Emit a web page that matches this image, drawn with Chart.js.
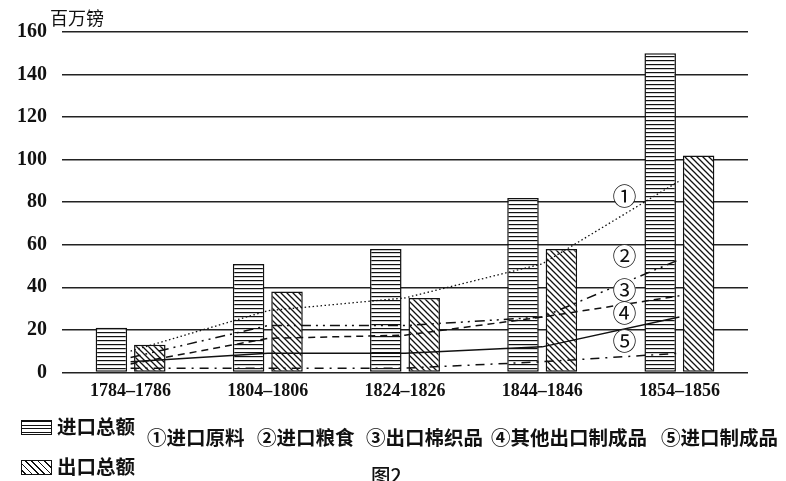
<!DOCTYPE html>
<html>
<head>
<meta charset="utf-8">
<script src="https://cdn.jsdelivr.net/npm/chart.js@4"></script>
<style>
	body { margin: 0; background: #fff; }
	#wrap { position: relative; width: 786px; height: 481px; overflow: hidden; font-family: "Noto Sans CJK SC", sans-serif; color: #111; }
	#chartBox { position: absolute; left: 0; top: 0; width: 786px; height: 481px; }
	.unit { position: absolute; left: 50px; top: 4px; font-size: 18px; }
	.key { position: absolute; font-size: 19.5px; font-weight: 700; white-space: nowrap; line-height: 24px; }
	.sw { display: inline-block; width: 31px; height: 15px; border: 1.5px solid #111; vertical-align: -1px; margin-right: 5px; box-sizing: border-box; }
	.sw.imp { background: repeating-linear-gradient(to bottom, #111 0 1px, #fff 1px 3.5px); }
	.sw.exp { background: repeating-linear-gradient(45deg, #fff 0 2px, #111 2px 3.2px, #fff 3.2px 4.5px); }
</style>
</head>
<body>
<div id="wrap">
	<div id="chartBox"><canvas id="tradeChart"></canvas></div>
	<div class="unit">百万镑</div>
	<div class="key" style="left:21px; top:414px;"><span class="sw imp"></span>进口总额</div>
	<div class="key" style="left:21px; top:454px;"><span class="sw exp"></span>出口总额</div>
	<div class="key" style="left:147px; top:425px;">①进口原料</div>
	<div class="key" style="left:257px; top:425px;">②进口粮食</div>
	<div class="key" style="left:366px; top:425px;">③出口棉织品</div>
	<div class="key" style="left:491px; top:425px;">④其他出口制成品</div>
	<div class="key" style="left:661px; top:425px;">⑤进口制成品</div>
	<div class="key" style="left:371px; top:463px; font-weight:500;">图2</div>
</div>
<script>
const categories = ["1784–1786", "1804–1806", "1824–1826", "1844–1846", "1854–1856"];
const importTotal = [21, 51, 58, 82, 150];
const exportTotal = [13, 38, 35, 58, 102];
const importRaw = [10, 29, 35, 51, 90];        // ①
const importGrain = [7, 22, 22, 26, 53];       // ②
const exportCotton = [4, 16, 17.5, 26, 36];    // ③
const otherExportGoods = [5, 9, 9, 12, 26];    // ④
const importGoods = [2, 2, 2, 5, 9];           // ⑤
const lineMarks = ["①", "②", "③", "④", "⑤"];
const markValues = [83, 55, 39, 28, 15];
const yMax = 160;
const yStep = 20;

function stripes() {
	const c = document.createElement("canvas");
	c.width = 8; c.height = 4;
	const g = c.getContext("2d");
	g.fillStyle = "#fff"; g.fillRect(0, 0, 8, 4);
	g.fillStyle = "#111"; g.fillRect(0, 0, 8, 1.2);
	return g.createPattern(c, "repeat");
}

function hatch() {
	const s = 6;
	const c = document.createElement("canvas");
	c.width = s; c.height = s;
	const g = c.getContext("2d");
	g.fillStyle = "#fff"; g.fillRect(0, 0, s, s);
	g.strokeStyle = "#111"; g.lineWidth = 1.3;
	g.beginPath();
	g.moveTo(0, 0); g.lineTo(s, s);
	g.moveTo(-s, 0); g.lineTo(s, 2 * s);
	g.moveTo(0, -s); g.lineTo(2 * s, s);
	g.stroke();
	return g.createPattern(c, "repeat");
}

const lineBase = { type: "line", borderColor: "#111", pointRadius: 0, fill: false, tension: 0, order: 0 };

// circled numbers next to the lines, placed between the last two categories
const markPlugin = {
	id: "marks",
	afterDatasetsDraw(chart) {
		const x = chart.scales.x, y = chart.scales.y, ctx = chart.ctx;
		const px = x.getPixelForValue(3) + (x.getPixelForValue(4) - x.getPixelForValue(3)) * 0.6;
		ctx.save();
		ctx.font = "24px 'Noto Sans CJK SC'";
		ctx.textAlign = "center";
		ctx.textBaseline = "middle";
		lineMarks.forEach((m, i) => {
			const py = y.getPixelForValue(markValues[i]);
			ctx.fillStyle = "#fff";
			ctx.beginPath(); ctx.arc(px, py, 11, 0, Math.PI * 2); ctx.fill();
			ctx.fillStyle = "#111";
			ctx.fillText(m, px, py);
		});
		ctx.restore();
	}
};

new Chart(document.getElementById("tradeChart"), {
	type: "bar",
	data: {
		labels: categories,
		datasets: [
			{ label: "进口总额", data: importTotal, backgroundColor: stripes(), borderColor: "#111", borderWidth: 1.5, borderSkipped: false, categoryPercentage: 0.56, barPercentage: 0.82, order: 1 },
			{ label: "出口总额", data: exportTotal, backgroundColor: hatch(), borderColor: "#111", borderWidth: 1.5, borderSkipped: false, categoryPercentage: 0.56, barPercentage: 0.82, order: 1 },
			{ ...lineBase, label: "①进口原料", data: importRaw, borderWidth: 1.3, borderDash: [1.5, 2.5] },
			{ ...lineBase, label: "②进口粮食", data: importGrain, borderWidth: 1.5, borderDash: [10, 5, 2, 5, 2, 5] },
			{ ...lineBase, label: "③出口棉织品", data: exportCotton, borderWidth: 1.5, borderDash: [7, 5] },
			{ ...lineBase, label: "④其他出口制成品", data: otherExportGoods, borderWidth: 1.5 },
			{ ...lineBase, label: "⑤进口制成品", data: importGoods, borderWidth: 1.5, borderDash: [9, 6, 2, 6] }
		]
	},
	options: {
		responsive: true,
		maintainAspectRatio: false,
		animation: false,
		layout: { padding: { left: 2, right: 38, top: 32, bottom: 79 } },
		plugins: {
			legend: { display: false },
			tooltip: { enabled: false }
		},
		scales: {
			x: {
				grid: { display: false },
				border: { display: false },
				ticks: { color: "#111", font: { family: "'Liberation Serif'", size: 18, weight: "bold" }, padding: 0 }
			},
			y: {
				min: 0,
				max: yMax,
				ticks: { stepSize: yStep, color: "#111", font: { family: "'Liberation Serif'", size: 20, weight: "bold" }, padding: 15 },
				grid: { color: "#222", lineWidth: 1.5, drawTicks: false },
				border: { display: false }
			}
		}
	},
	plugins: [markPlugin]
});
</script>
</body>
</html>
